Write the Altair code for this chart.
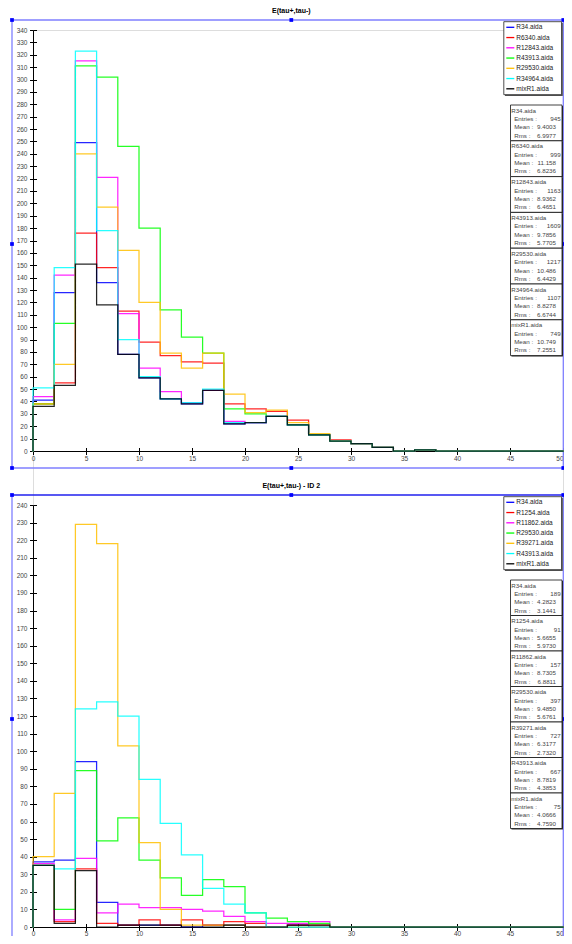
import altair as alt
import pandas as pd

EDGES = list(range(0, 52, 2))  # histogram bin edges 0..50, width 2

# ---------------- top panel ----------------
top_title = "E(tau+,tau-)"
top_names = ["R34.aida", "R6340.aida", "R12843.aida", "R43913.aida",
             "R29530.aida", "R34964.aida", "mixR1.aida"]
top_colors = ["#0000ff", "#ff0000", "#ff00ff", "#00ff00", "#ffc000", "#00ffff", "#000000"]
top_R34    = [41, 128, 249, 136, 78, 59, 42, 38, 49, 22, 23, 28, 21, 13, 8, 6, 3, 0, 1, 0, 0, 0, 0, 0, 0]
top_R6340  = [38, 55, 176, 148, 113, 88, 77, 72, 71, 38, 34, 32, 25, 13, 9, 6, 3, 0, 1, 0, 0, 0, 0, 0, 0]
top_R12843 = [44, 142, 315, 221, 111, 67, 48, 39, 49, 24, 23, 28, 21, 13, 8, 6, 3, 0, 1, 0, 0, 0, 0, 0, 0]
top_R43913 = [38, 103, 311, 302, 246, 180, 114, 92, 79, 34, 30, 28, 21, 13, 8, 6, 3, 0, 1, 0, 0, 0, 0, 0, 0]
top_R29530 = [38, 70, 240, 197, 162, 120, 79, 67, 79, 46, 31, 33, 23, 14, 8, 6, 3, 0, 1, 0, 0, 0, 0, 0, 0]
top_R34964 = [51, 148, 323, 178, 90, 60, 42, 39, 50, 23, 23, 28, 21, 13, 8, 6, 3, 0, 1, 0, 0, 0, 0, 0, 0]
top_mixR1  = [36, 53, 151, 118, 78, 59, 42, 38, 49, 22, 23, 28, 21, 13, 8, 6, 3, 0, 1, 0, 0, 0, 0, 0, 0]
top_entries = [945, 999, 1163, 1609, 1217, 1107, 749]
top_means = ["9.4003", "11.158", "8.9362", "9.7856", "10.486", "8.8278", "10.749"]
top_rms = ["6.9977", "6.8236", "6.4651", "5.7705", "6.4429", "6.6744", "7.2551"]
top_yticks = list(range(0, 341, 10))

# ---------------- bottom panel ----------------
bot_title = "E(tau+,tau-) - ID 2"
bot_names = ["R34.aida", "R1254.aida", "R11862.aida", "R29530.aida",
             "R39271.aida", "R43913.aida", "mixR1.aida"]
bot_colors = ["#0000ff", "#ff0000", "#ff00ff", "#00ff00", "#ffc000", "#00ffff", "#000000"]
bot_R34    = [37, 38, 94, 14, 1, 1, 1, 0, 1, 1, 0, 0, 1, 0, 0, 0, 0, 0, 0, 0, 0, 0, 0, 0, 0]
bot_R1254  = [35, 3, 33, 2, 1, 4, 1, 4, 1, 3, 2, 0, 1, 1, 0, 0, 0, 0, 0, 0, 0, 0, 0, 0, 0]
bot_R11862 = [36, 4, 39, 8, 13, 11, 11, 10, 9, 6, 3, 2, 2, 3, 0, 0, 0, 0, 0, 0, 0, 0, 0, 0, 0]
bot_R29530 = [35, 10, 89, 49, 62, 38, 28, 18, 27, 23, 8, 5, 3, 2, 0, 0, 0, 0, 0, 0, 0, 0, 0, 0, 0]
bot_R39271 = [40, 76, 229, 218, 103, 48, 10, 1, 1, 1, 0, 0, 0, 0, 0, 0, 0, 0, 0, 0, 0, 0, 0, 0, 0]
bot_R43913 = [35, 33, 124, 128, 120, 84, 59, 41, 22, 13, 8, 0, 0, 0, 0, 0, 0, 0, 0, 0, 0, 0, 0, 0, 0]
bot_mixR1  = [35, 2, 32, 0, 1, 1, 1, 0, 0, 1, 0, 0, 1, 1, 0, 0, 0, 0, 0, 0, 0, 0, 0, 0, 0]
bot_entries = [189, 91, 157, 397, 727, 667, 75]
bot_means = ["4.2823", "5.6655", "8.7305", "9.4850", "6.3177", "8.7819", "4.0666"]
bot_rms = ["3.1441", "5.9730", "6.8811", "5.6761", "2.7320", "4.3853", "4.7590"]
bot_yticks = list(range(0, 241, 10))

x_ticks = list(range(0, 51, 5))

FONT = "Liberation Sans"
W = 530            # plot width
TOTAL_H = 897      # from top of upper plot to bottom of lower plot
TOP_H = 421
BOT_Y0 = 475       # top of lower plot, relative to top of upper plot
BOT_H = 422
RIGHT = 530.6      # right-most drawable x (pixels, relative to plot left)


def step_frame(counts):
    xs, ys = [0], [0]
    for i, c in enumerate(counts):
        xs += [EDGES[i], EDGES[i + 1]]
        ys += [c, c]
    xs.append(EDGES[-1])
    ys.append(0)
    return pd.DataFrame({"x": xs, "y": ys, "i": list(range(len(xs)))})


def px(field):
    return alt.X(field, type="quantitative", scale=None, axis=None)


def py(field):
    return alt.Y(field, type="quantitative", scale=None, axis=None)


XSCALE = alt.Scale(domain=[0, 50], nice=False, zero=False)


def panel_layers(title, names, colors, series, entries, means, rms, yticks,
                 y0, h, box_h, top_line_col, label_pad):
    """Layers of one panel; y0 = pixel top of its plot area inside the shared view."""
    yscale = alt.Scale(domain=[0, yticks[-1]], range=[y0 + h, y0], nice=False, zero=True)
    x_off = -(TOTAL_H - (y0 + h))
    common = dict(tickColor="black", tickWidth=1, grid=False, title=None,
                  labelFont=FONT, labelFontSize=6.5, labelColor="#444")
    xa_main = alt.Axis(orient="bottom", values=x_ticks, tickSize=3.5, domainColor="black",
                       domainWidth=1, labelPadding=label_pad, labelFlush=False,
                       labelAlign={"condition": {"test": "datum.value == 50", "value": "right"},
                                   "value": "center"},
                       offset=x_off, **common)
    ya_main = alt.Axis(orient="left", values=yticks, tickSize=3.5, domainColor="black",
                       domainWidth=1, labelPadding=2.5, labelFlush=False, **common)
    xa_in = alt.Axis(orient="bottom", values=x_ticks, tickSize=3.5, offset=x_off - 3.5,
                     labels=False, domain=False, tickColor="black", grid=False, title=None)
    ya_in = alt.Axis(orient="left", values=yticks, tickSize=3.5, offset=-3.5,
                     labels=False, domain=False, tickColor="black", grid=False, title=None)

    layers = []
    # selection frame around the panel
    fl, fr = -21, RIGHT - 0.3
    ft, fb = y0 - 10, y0 + 438
    mid = (ft + fb) / 2
    cx = 258.3
    frame = pd.DataFrame([
        {"x": fl, "x2": fr, "y": ft, "y2": ft, "c": top_line_col},
        {"x": fl, "x2": fl, "y": ft, "y2": fb, "c": "#7f7fff"},
        {"x": fr, "x2": fr, "y": ft, "y2": fb, "c": "#7f7fff"},
        {"x": fl, "x2": fr, "y": fb, "y2": fb, "c": "#7f7fff"},
    ])
    layers.append(alt.Chart(frame).mark_rule(strokeWidth=1.3).encode(
        x=px("x"), x2="x2", y=py("y"), y2="y2", color=alt.Color("c:N", scale=None)))
    sq = pd.DataFrame({"x": [fl, cx, fr, fl, fr, fl, cx, fr],
                       "y": [ft, ft, ft, mid, mid, fb, fb, fb]})
    layers.append(alt.Chart(sq).mark_square(size=14, color="#0000ff", opacity=1).encode(
        x=px("x"), y=py("y")))

    # title
    layers.append(alt.Chart(pd.DataFrame({"x": [cx], "y": [y0 - 18.8], "t": [title]})).mark_text(
        font=FONT, fontSize=7, fontWeight="bold", color="black", align="center",
        baseline="middle").encode(x=px("x"), y=py("y"), text="t:N"))

    # histograms
    for k, (vals, col) in enumerate(zip(series, colors)):
        df = step_frame(vals)
        if k == 0:
            xe = alt.X("x:Q", scale=XSCALE, axis=xa_main)
            ye = alt.Y("y:Q", scale=yscale, axis=ya_main)
        else:
            xe = alt.X("x:Q", scale=XSCALE, axis=None)
            ye = alt.Y("y:Q", scale=yscale, axis=None)
        layers.append(alt.Chart(df).mark_line(
            color=col, strokeWidth=1.25, opacity=0.85, strokeJoin="miter", strokeCap="square",
            interpolate="linear").encode(x=xe, y=ye, order="i:Q"))
        if k == 0:
            layers.append(alt.Chart(df).mark_point(opacity=0).encode(
                x=alt.X("x:Q", scale=XSCALE, axis=xa_in),
                y=alt.Y("y:Q", scale=yscale, axis=ya_in)))

    # legend box
    lx2 = RIGHT - 2.0
    lx1 = lx2 - 57.8
    leg_top = y0 - 8.3
    leg_h = 73
    box = pd.DataFrame({"x": [lx1], "x2": [lx2], "y": [leg_top], "y2": [leg_top + leg_h]})
    shadow = box.copy()
    for c in ["x", "x2", "y", "y2"]:
        shadow[c] = shadow[c] + 1.2
    layers.append(alt.Chart(shadow).mark_rect(fill="#555").encode(
        x=px("x"), x2="x2", y=py("y"), y2="y2"))
    layers.append(alt.Chart(box).mark_rect(fill="white", stroke="#222", strokeWidth=0.8).encode(
        x=px("x"), x2="x2", y=py("y"), y2="y2"))
    rows = pd.DataFrame({
        "name": names, "c": colors,
        "y": [leg_top + 5.6 + 10.25 * i for i in range(len(names))],
    })
    rows["x"] = lx1 + 2.5
    rows["x2"] = lx1 + 10.5
    rows["tx"] = lx1 + 12.5
    layers.append(alt.Chart(rows).mark_rule(strokeWidth=1.3).encode(
        x=px("x"), x2="x2", y=py("y"), color=alt.Color("c:N", scale=None)))
    layers.append(alt.Chart(rows).mark_text(
        align="left", baseline="middle", font=FONT, fontSize=6.5, color="#222").encode(
        x=px("tx"), y=py("y"), text="name:N"))

    # statistics boxes
    sx2 = RIGHT - 1.6
    sx1 = sx2 - 51.5
    tops = [y0 + 75 + box_h * i for i in range(len(names))]
    sb = pd.DataFrame({"x": sx1, "x2": sx2, "y": tops, "y2": [t + box_h for t in tops]})
    sbs = sb.copy()
    for c in ["x", "x2", "y", "y2"]:
        sbs[c] = sbs[c] + 1.0
    layers.append(alt.Chart(sbs).mark_rect(fill="#333").encode(
        x=px("x"), x2="x2", y=py("y"), y2="y2"))
    layers.append(alt.Chart(sb).mark_rect(fill="white", stroke="#111", strokeWidth=0.8).encode(
        x=px("x"), x2="x2", y=py("y"), y2="y2"))
    left_txt, right_txt = [], []
    for n, e, m, r, t in zip(names, entries, means, rms, tops):
        left_txt.append({"x": sx1 + 0.7, "y": t + 5.5, "t": n})
        left_txt.append({"x": sx1 + 3.7, "y": t + 14.0, "t": "Entries :"})
        left_txt.append({"x": sx1 + 3.7, "y": t + 22.4, "t": "Mean :"})
        left_txt.append({"x": sx1 + 3.7, "y": t + 30.6, "t": "Rms :"})
        right_txt.append({"x": sx2 - 1.4, "y": t + 14.0, "t": str(e)})
        right_txt.append({"x": sx2 - 6.0, "y": t + 22.4, "t": m})
        right_txt.append({"x": sx2 - 6.0, "y": t + 30.6, "t": r})
    layers.append(alt.Chart(pd.DataFrame(left_txt)).mark_text(
        align="left", baseline="middle", font=FONT, fontSize=6.2, color="#444").encode(
        x=px("x"), y=py("y"), text="t:N"))
    layers.append(alt.Chart(pd.DataFrame(right_txt)).mark_text(
        align="right", baseline="middle", font=FONT, fontSize=6.2, color="#444").encode(
        x=px("x"), y=py("y"), text="t:N"))
    return layers


top_layers = panel_layers(
    top_title, top_names, top_colors,
    [top_R34, top_R6340, top_R12843, top_R43913, top_R29530, top_R34964, top_mixR1],
    top_entries, top_means, top_rms, top_yticks,
    y0=0, h=TOP_H, box_h=35.8, top_line_col="#7f7fff", label_pad=1)
bot_layers = panel_layers(
    bot_title, bot_names, bot_colors,
    [bot_R34, bot_R1254, bot_R11862, bot_R29530, bot_R39271, bot_R43913, bot_mixR1],
    bot_entries, bot_means, bot_rms, bot_yticks,
    y0=BOT_Y0, h=BOT_H, box_h=35.5, top_line_col="#2020ee", label_pad=0)

chart = alt.layer(*top_layers, *bot_layers).resolve_scale(y="independent").resolve_axis(
    x="independent", y="independent").properties(
    width=W, height=TOTAL_H,
    autosize=alt.AutoSizeParams(type="none"),
    padding={"left": 25, "top": 22, "right": 1, "bottom": 9},
    background="white",
).configure_view(strokeWidth=0, stroke="transparent").configure(font=FONT)

chart.save("out.html", embed_options={"renderer": "svg", "actions": False})
